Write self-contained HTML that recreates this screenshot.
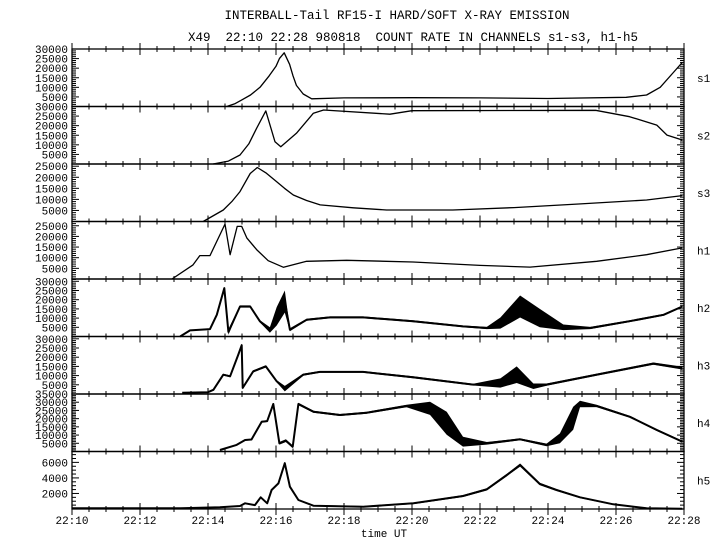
<!DOCTYPE html>
<html><head><meta charset="utf-8"><style>
body{margin:0;background:#fff}
svg{display:block}
text{font-family:"Liberation Mono",monospace;fill:#000}
</style></head><body>
<svg id="chart" width="720" height="550" viewBox="0 0 720 550">
<text x="397" y="19" font-size="12.5" text-anchor="middle">INTERBALL-Tail RF15-I HARD/SOFT X-RAY EMISSION</text>
<text x="413" y="41" font-size="12.5" text-anchor="middle" xml:space="preserve">X49  22:10 22:28 980818  COUNT RATE IN CHANNELS s1-s3, h1-h5</text>
<text x="384" y="537" font-size="11" text-anchor="middle">time UT</text>
<g id="plots"></g>
</svg>
<script>
// ---- data ----
const panelNames = ["s1","s2","s3","h1","h2","h3","h4","h5"];
const panelMax = [30000,30000,26000,27000,31250,31250,35000,7400];
const s1Ticks = [5000,10000,15000,20000,25000,30000];
const s2Ticks = [5000,10000,15000,20000,25000,30000];
const s3Ticks = [5000,10000,15000,20000,25000];
const h1Ticks = [5000,10000,15000,20000,25000];
const h2Ticks = [5000,10000,15000,20000,25000,30000];
const h3Ticks = [5000,10000,15000,20000,25000,30000];
const h4Ticks = [5000,10000,15000,20000,25000,30000,35000];
const h5Ticks = [2000,4000,6000];
const xTickLabels = ["22:10","22:12","22:14","22:16","22:18","22:20","22:22","22:24","22:26","22:28"];

// time in minutes after 22:10
const s1T = [4.55,4.8,5.0,5.25,5.53,5.8,6.0,6.1,6.24,6.4,6.5,6.6,6.8,7.05,8,10,12,14,16.3,16.9,17.3,17.7,17.95];
const s1V = [0,1500,3500,6000,10000,16000,21000,25000,28000,22000,16000,11000,6500,4000,4500,4600,4500,4200,4800,6000,10000,18000,23000];
const s2T = [4.15,4.6,4.94,5.2,5.43,5.7,5.97,6.14,6.6,7.1,7.4,9.35,10,15.4,16.4,17.2,17.5,17.95];
const s2V = [0,1500,4700,10500,18600,27700,11600,9000,16000,26500,28200,26000,27800,28000,24700,20300,15100,12500];
const s3T = [3.86,4.45,4.7,4.94,5.24,5.45,5.7,6.02,6.25,6.51,6.9,7.3,8.27,9.25,11.2,13,14.9,16.9,17.95];
const s3V = [0,5200,9000,13500,21700,24400,22000,18000,15000,12000,9500,7500,6200,5200,5200,6300,7900,9700,11700];
const h1T = [2.94,3.56,3.76,4.06,4.5,4.65,4.86,4.99,5.14,5.43,5.77,6.22,6.9,8.08,10.03,12,13.47,15.43,16.9,17.95];
const h1V = [0,6600,11000,11000,25800,11400,24700,24700,19300,13800,8600,5500,8300,8800,8000,6400,5600,8300,11400,14600];
const h2T = [3.18,3.47,4.06,4.26,4.48,4.6,4.94,5.24,5.53,5.82,6.02,6.26,6.41,6.9,7.59,8.56,10.03,11.5,12.2,12.6,13.18,13.76,14.45,15.24,16.4,17.4,17.95];
const h2V = [0,3300,4000,11800,26300,2500,16300,16300,8200,3500,11000,19000,3700,9100,10400,10400,8300,5500,4600,7300,16300,10000,5000,4600,8300,11800,16300];
const h2S = [0,300,300,400,500,1500,600,600,600,1500,5000,6000,800,500,500,500,500,500,600,3000,6000,5000,1500,600,500,500,500];
const h3T = [3.24,4.0,4.16,4.45,4.65,4.89,4.99,5.02,5.33,5.7,6.02,6.26,6.8,7.29,8.56,10.03,11.8,12.6,13.08,13.57,13.96,15.43,17.1,17.95];
const h3V = [700,1000,2300,10500,9600,21400,26500,3300,12300,15000,6900,2900,10500,12000,12000,9100,5100,6000,10500,4200,5100,10500,16500,14100];
const h3S = [0,200,300,500,500,600,800,800,600,600,600,1500,600,500,500,500,500,2500,4500,1500,600,600,600,800];
const h4T = [4.35,4.84,5.09,5.28,5.58,5.74,5.92,6.1,6.29,6.49,6.66,7.1,7.88,8.67,9.84,10.53,11.02,11.5,12.2,13.18,13.96,14.35,14.74,14.94,15.43,16.41,17.2,17.95];
const h4V = [900,4000,7000,7300,18100,18500,28900,5000,6600,2900,28900,24200,22200,23600,27700,26300,17200,6000,5000,7400,4000,8000,20200,28900,27700,21100,13100,6000];
const h4S = [0,300,400,400,500,500,600,800,800,800,800,600,600,600,800,4000,7000,3000,800,600,800,3000,7000,2000,700,600,600,600];
const h5T = [0,2,3.2,4.35,4.94,5.09,5.38,5.55,5.74,5.87,6.07,6.26,6.41,6.66,7.1,8.57,10.04,11.5,12.2,12.79,13.18,13.76,14.25,14.94,15.92,16.9,17.95];
const h5V = [100,100,100,220,390,730,500,1500,730,2450,3300,5900,2870,1160,430,300,730,1670,2530,4380,5660,3220,2450,1500,600,90,30];
const h5S = [0,0,0,0,50,50,50,80,80,100,100,150,100,80,80,80,100,120,150,150,200,150,120,100,80,50,0];

// ---- layout ----
const X0 = 72, X1 = 684, TMAX = 18, TOP = 49, PH = 57.5;
const NS = "http://www.w3.org/2000/svg";
function xs(t){ return X0 + (t / TMAX) * (X1 - X0); }
function ys(p, v){ const b = TOP + (p + 1) * PH; return b - (v / panelMax[p]) * PH; }
const g = document.getElementById("plots");
function mk(tag, attrs){ const e = document.createElementNS(NS, tag); for (const k in attrs) e.setAttribute(k, attrs[k]); g.appendChild(e); return e; }

const series = [[s1T,s1V,null],[s2T,s2V,null],[s3T,s3V,null],[h1T,h1V,null],[h2T,h2V,h2S],[h3T,h3V,h3S],[h4T,h4V,h4S],[h5T,h5V,h5S]];
const ticksAll = [s1Ticks,s2Ticks,s3Ticks,h1Ticks,h2Ticks,h3Ticks,h4Ticks,h5Ticks];

for (let p = 0; p < 8; p++) {
  const top = TOP + p * PH, bot = top + PH;
  const fr = mk("rect", {x: X0, y: top, width: X1 - X0, height: PH, fill: "none", stroke: "#000", "stroke-width": 1.3});
  
  
  for (let i = 0; i <= 36; i++) {
    const x = xs(i * 0.5), L = (i % 4 === 0) ? 6 : 3;
    for (const yy of [top, bot]) {
      const tk = mk("line", {x1: x, x2: x, y1: yy - L, y2: yy + L, stroke: "#000", "stroke-width": 1});
      
      
    }
  }
  const step = p === 7 ? 500 : 1000, big = p === 7 ? 2000 : 5000;
  for (let v = step; v < panelMax[p]; v += step) {
    const y = ys(p, v), L = (v % big === 0) ? 7 : 4;
    const a = mk("line", {x1: X0, x2: X0 + L, y1: y, y2: y, stroke: "#000", "stroke-width": 1});
    
    
    const b = mk("line", {x1: X1 - L, x2: X1, y1: y, y2: y, stroke: "#000", "stroke-width": 1});
    
    
  }
  for (const v of ticksAll[p]) {
    const t = mk("text", {x: 68, y: ys(p, v) + 4, "font-size": 11, "text-anchor": "end"});
    t.textContent = String(v);
    
    
  }
  const pl = mk("text", {x: 697, y: top + PH / 2 + 4, "font-size": 11});
  pl.textContent = panelNames[p];
  
  
  const [T, V, S] = series[p];
  if (S) {
    let up = [], dn = [];
    for (let i = 0; i < T.length; i++) {
      up.push(xs(T[i]).toFixed(1) + "," + ys(p, Math.min(panelMax[p], V[i] + S[i])).toFixed(1));
      dn.unshift(xs(T[i]).toFixed(1) + "," + ys(p, Math.max(0, V[i] - S[i])).toFixed(1));
    }
    const band = mk("polygon", {points: up.concat(dn).join(" "), fill: "#000"});
    
    
  }
  const pts = T.map((t, i) => xs(t).toFixed(1) + "," + ys(p, V[i]).toFixed(1)).join(" ");
  const ln = mk("polyline", {points: pts, fill: "none", stroke: "#000", "stroke-width": S ? 2 : 1.3, "stroke-linejoin": "round"});
  
  
}
xTickLabels.forEach((s, i) => {
  const t = mk("text", {x: xs(i * 2), y: 524, "font-size": 11, "text-anchor": "middle"});
  t.textContent = s;
  
  
});
</script>
</body></html>
